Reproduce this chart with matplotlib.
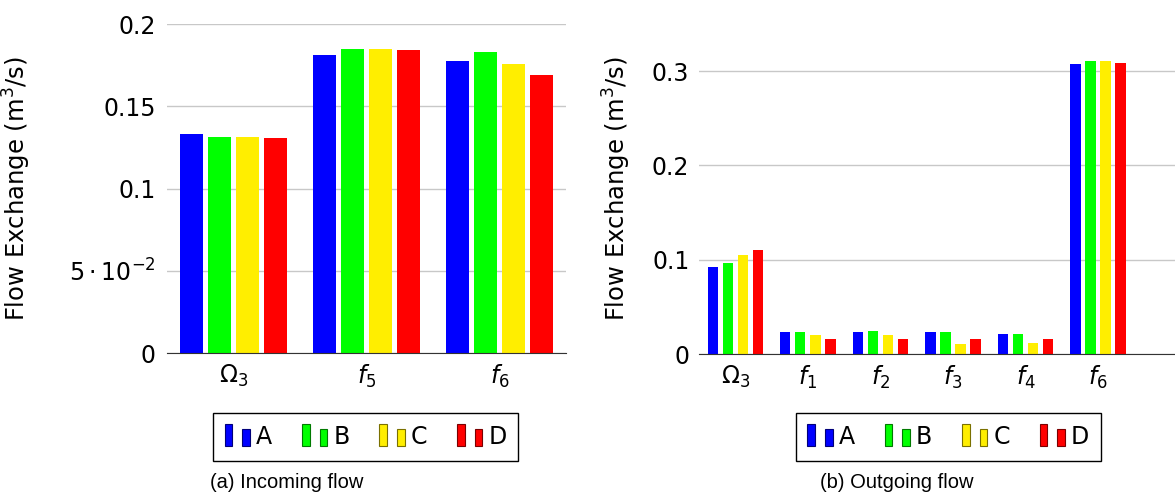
import numpy as np
import matplotlib
matplotlib.use("Agg")
import matplotlib.pyplot as plt
from matplotlib.patches import Rectangle
from matplotlib.legend_handler import HandlerBase

plt.rcParams['font.family'] = 'DejaVu Sans'
plt.rcParams['mathtext.fontset'] = 'dejavusans'

series = ['A', 'B', 'C', 'D']
colors = ['#0000ff', '#00ff00', '#ffee00', '#ff0000']
edges = ['#00007a', '#007a00', '#7a7000', '#7a0000']

# (a) incoming flow
in_cats = [r'$\Omega_3$', r'$f_5$', r'$f_6$']
in_A = [0.1332, 0.1812, 0.1773]
in_B = [0.1316, 0.1846, 0.1830]
in_C = [0.1314, 0.1846, 0.1755]
in_D = [0.1308, 0.1844, 0.1688]

# (b) outgoing flow
out_cats = [r'$\Omega_3$', r'$f_1$', r'$f_2$', r'$f_3$', r'$f_4$', r'$f_6$']
out_A = [0.0926, 0.0233, 0.0233, 0.0230, 0.0216, 0.3076]
out_B = [0.0961, 0.0233, 0.0240, 0.0237, 0.0216, 0.3105]
out_C = [0.1046, 0.0198, 0.0201, 0.0109, 0.0120, 0.3108]
out_D = [0.1106, 0.0159, 0.0159, 0.0159, 0.0163, 0.3090]


class TwoBars(HandlerBase):
    def create_artists(self, legend, orig, xd, yd, w, h, fs, trans):
        fc = orig.get_facecolor()
        ec = orig.get_edgecolor()
        bw = w * 0.3
        r1 = Rectangle((xd, yd - 0.15 * h), bw, h * 1.35, fc=fc, ec=ec, lw=0.8, transform=trans)
        r2 = Rectangle((xd + w - bw, yd - 0.15 * h), bw, h * 1.05, fc=fc, ec=ec, lw=0.8, transform=trans)
        return [r1, r2]


def draw(ax, cats, vals, step, width):
    x = np.arange(len(cats))
    handles = []
    for i, v in enumerate(vals):
        ax.bar(x + (i - 1.5) * step, v, width, color=colors[i], zorder=2)
        handles.append(Rectangle((0, 0), 1, 1, fc=colors[i], ec=edges[i]))
    ax.set_xticks(x)
    ax.set_xticklabels(cats)
    ax.grid(axis='y', color='#c8c8c8', lw=1, zorder=0)
    for s in ['top', 'right', 'left']:
        ax.spines[s].set_visible(False)
    ax.spines['bottom'].set_color('#333333')
    ax.spines['bottom'].set_zorder(3)
    ax.tick_params(length=0, labelsize=17)
    ax.tick_params(axis='x', pad=7)
    ax.set_ylabel('Flow Exchange (m$^3$/s)', fontsize=17.5)
    return handles


fig = plt.figure(figsize=(11.75, 4.94), dpi=100)

ax1 = fig.add_axes([0.1419, 0.2848, 0.3398, 0.6666])
h1 = draw(ax1, in_cats, [in_A, in_B, in_C, in_D], 0.21, 0.17)
ax1.set_xlim(-0.5, 2.5)
ax1.set_ylim(0, 0.2)
ax1.set_yticks([0, 0.05, 0.1, 0.15, 0.2])
ax1.set_yticklabels(['0', r'$5\cdot10^{-2}$', '0.1', '0.15', '0.2'])
ax1.tick_params(axis='y', pad=8)
ax1.yaxis.set_label_coords(-0.335, 0.5)

ax2 = fig.add_axes([0.5949, 0.2834, 0.4051, 0.668])
h2 = draw(ax2, out_cats, [out_A, out_B, out_C, out_D], 0.207, 0.142)
ax2.set_xlim(-0.5, 6.06)
ax2.set_ylim(0, 0.35)
ax2.set_yticks([0, 0.1, 0.2, 0.3])
ax2.set_yticklabels(['0', '0.1', '0.2', '0.3'])
ax2.tick_params(axis='y', pad=7)
ax2.yaxis.set_label_coords(-0.139, 0.5)

for h, cx in [(h1, 0.3112), (h2, 0.8071)]:
    leg = fig.legend(h, series, loc='center', bbox_to_anchor=(cx, 0.1154), ncol=4,
                     fontsize=17, handler_map={Rectangle: TwoBars()},
                     handlelength=1.07, handletextpad=0.25, columnspacing=1.27,
                     fancybox=False, framealpha=1, edgecolor='black',
                     borderpad=0.5, borderaxespad=0)
    leg.get_frame().set_linewidth(1)

fig.text(0.2443, 0.0233, '(a) Incoming flow', ha='center', va='center',
         fontsize=14.5, family='Liberation Sans')
fig.text(0.7631, 0.0233, '(b) Outgoing flow', ha='center', va='center',
         fontsize=14.5, family='Liberation Sans')

fig.savefig('out.png', dpi=100)
